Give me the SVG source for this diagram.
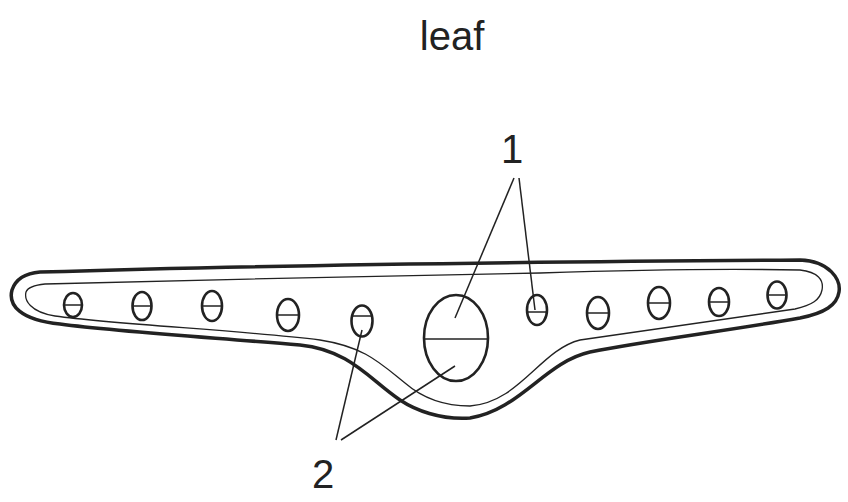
<svg xmlns="http://www.w3.org/2000/svg" width="848" height="502" viewBox="0 0 848 502">
<style>
.o{fill:none;stroke:#222;stroke-width:3.5;stroke-linejoin:round}
.i{fill:none;stroke:#222;stroke-width:1.3}
.c{fill:none;stroke:#222;stroke-width:2.6}
.l{stroke:#222;stroke-width:1.5}
text{font-family:"Liberation Sans",Arial,sans-serif;fill:#222}
</style>
<rect width="848" height="502" fill="#fff"/>
<text x="452" y="50" font-size="40" text-anchor="middle">leaf</text>
<g id="leaf">
<path class="o" d="M40,272 C200,267 500,262 800,260 C830,261 841,280 839,292 C837,305 825,313 800,318 C720,332 650,340 590,352 C545,362 520,410 470,418 C440,420 415,410 400,400 C370,380 350,350 300,345 C220,338 120,332 60,324 C20,320 8,305 12,290 C16,278 28,273 40,272 Z"/>
<path class="i" d="M45,284 C200,280 420,275 540,273 C600,271 700,268 800,270 C818,272 824,280 822,290 C820,300 812,305 795,309 C720,320 650,330 580,340 C540,350 520,402 470,406 C440,406 420,396 405,383 C380,363 365,347 320,340 C240,330 120,325 55,316 C30,312 24,300 26,292 C28,287 35,285 45,284 Z"/>
</g>
<g id="vessels">
<ellipse class="c" cx="73" cy="305" rx="9" ry="12"/><line class="l" x1="64" y1="305" x2="82" y2="305"/>
<ellipse class="c" cx="142" cy="306" rx="9.5" ry="14"/><line class="l" x1="133" y1="306" x2="151" y2="306"/>
<ellipse class="c" cx="212" cy="306" rx="10" ry="15"/><line class="l" x1="202" y1="306" x2="222" y2="306"/>
<ellipse class="c" cx="288" cy="315" rx="11" ry="16"/><line class="l" x1="277" y1="315" x2="299" y2="315"/>
<ellipse class="c" cx="362" cy="321" rx="10.5" ry="15.5"/><line class="l" x1="352" y1="316" x2="372" y2="316"/>
<ellipse class="c" cx="456" cy="338" rx="32" ry="43"/><line class="l" x1="424" y1="339" x2="488" y2="339"/>
<ellipse class="c" cx="537" cy="310" rx="10" ry="15"/><line class="l" x1="527" y1="312" x2="547" y2="312"/>
<ellipse class="c" cx="598" cy="313" rx="11" ry="16"/><line class="l" x1="587" y1="313" x2="609" y2="313"/>
<ellipse class="c" cx="659" cy="303" rx="11" ry="16"/><line class="l" x1="648" y1="303" x2="670" y2="303"/>
<ellipse class="c" cx="719" cy="302" rx="10" ry="14"/><line class="l" x1="709" y1="302" x2="729" y2="302"/>
<ellipse class="c" cx="777" cy="295" rx="9.5" ry="13.5"/><line class="l" x1="768" y1="295" x2="786" y2="295"/>
</g>
<g id="connectors">
<line class="l" x1="514" y1="178" x2="455" y2="318"/>
<line class="l" x1="519" y1="178" x2="535" y2="310"/>
<line class="l" x1="336" y1="440" x2="362" y2="330"/>
<line class="l" x1="341" y1="440" x2="455" y2="366"/>
</g>
<text x="512" y="163" font-size="40" text-anchor="middle">1</text>
<text x="323" y="488" font-size="40" text-anchor="middle">2</text>
</svg>
